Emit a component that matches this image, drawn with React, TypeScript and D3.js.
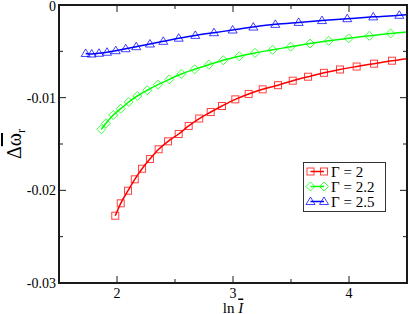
import React from "react";
import * as d3 from "d3";

const W = 409, H = 314;
const M = { left: 59, right: 2, top: 5, bottom: 31 };

const xTicks = [2, 3, 4];
const xMinor = [2.5, 3.5];
const yTicks = [0, -0.01, -0.02, -0.03];
const yTickLabels = ["0", "-0.01", "-0.02", "-0.03"];
const yMinor = [-0.005, -0.015, -0.025];

const redX = [1.985, 2.032, 2.095, 2.153, 2.216, 2.284, 2.359, 2.44, 2.532, 2.618, 2.709, 2.808, 2.905, 3.02, 3.135, 3.256, 3.388, 3.515, 3.647, 3.784, 3.922, 4.066, 4.216, 4.371];
const redY = [-0.02274, -0.0214, -0.02004, -0.01881, -0.01767, -0.01662, -0.01557, -0.01471, -0.01392, -0.01305, -0.01225, -0.01155, -0.0109, -0.01018, -0.0096, -0.0091, -0.00865, -0.00817, -0.00774, -0.00732, -0.00696, -0.00664, -0.00633, -0.00601];
const greenX = [1.865, 1.905, 1.968, 2.032, 2.101, 2.175, 2.261, 2.353, 2.451, 2.554, 2.67, 2.791, 2.916, 3.054, 3.19, 3.342, 3.497, 3.664, 3.825, 3.997, 4.175, 4.359];
const greenY = [-0.01341, -0.01277, -0.01187, -0.01119, -0.01047, -0.00982, -0.0092, -0.0086, -0.00802, -0.00745, -0.00694, -0.00644, -0.00596, -0.00553, -0.00517, -0.00484, -0.0045, -0.00416, -0.00387, -0.0036, -0.00333, -0.00307];
const blueX = [1.73, 1.782, 1.845, 1.914, 1.989, 2.075, 2.166, 2.284, 2.399, 2.532, 2.675, 2.836, 2.997, 3.175, 3.365, 3.566, 3.767, 3.985, 4.209, 4.434];
const blueY = [-0.00523, -0.00529, -0.00521, -0.0051, -0.00493, -0.00472, -0.0045, -0.00421, -0.00392, -0.00358, -0.00328, -0.00299, -0.0027, -0.00238, -0.00209, -0.00188, -0.00168, -0.00148, -0.00128, -0.00111];
const fitEndX = 4.5;
const fitEndY = [-0.00579, -0.00291, -0.00105];

const seriesNames = ["Γ = 2", "Γ = 2.2", "Γ = 2.5"];
const seriesColors = ["#ff0000", "#00ff00", "#0000ff"];
const seriesShapes = ["square", "diamond", "triangle"];

function Marker({ shape, x, y, color }: { shape: string; x: number; y: number; color: string }) {
  const common = { fill: "none", stroke: color, strokeWidth: 1, strokeOpacity: 0.75 };
  if (shape === "square") return <rect x={x - 3.5} y={y - 3.5} width={7} height={7} {...common} />;
  if (shape === "diamond")
    return <path d={`M${x},${y - 4.5}L${x + 4.5},${y}L${x},${y + 4.5}L${x - 4.5},${y}Z`} {...common} />;
  return <path d={`M${x},${y - 4.5}L${x + 4.5},${y + 3}L${x - 4.5},${y + 3}Z`} {...common} />;
}

export default function App() {
  const x = d3.scaleLinear().domain([1.5, 4.5]).range([M.left, W - M.right]);
  const y = d3.scaleLinear().domain([-0.03, 0]).range([H - M.bottom, M.top]);
  const series = [
    { xs: redX, ys: redY },
    { xs: greenX, ys: greenY },
    { xs: blueX, ys: blueY },
  ];
  const line = d3
    .line<[number, number]>()
    .x((d) => x(d[0]))
    .y((d) => y(d[1]))
    .curve(d3.curveMonotoneX);
  const x0 = M.left, x1 = W - M.right, y0 = M.top, y1 = H - M.bottom;
  const axisColor = "#1a1a1a";
  const font = "'Liberation Serif', 'Times New Roman', serif";

  return (
    <svg width={W} height={H} style={{ position: "absolute", left: 0, top: 0, background: "#fff" }} fontFamily={font}>
      {series.map((s, i) => {
        const pts: [number, number][] = s.xs.map((v, j) => [v, s.ys[j]]);
        pts.push([fitEndX, fitEndY[i]]);
        return (
          <g key={i}>
            <path d={line(pts) || ""} fill="none" stroke={seriesColors[i]} strokeWidth={1.5} />
            {s.xs.map((v, j) => (
              <Marker key={j} shape={seriesShapes[i]} x={x(v)} y={y(s.ys[j])} color={seriesColors[i]} />
            ))}
          </g>
        );
      })}
      <rect x={x0} y={y0} width={x1 - x0} height={y1 - y0} fill="none" stroke={axisColor} strokeWidth={2} />
      {xTicks.map((t) => (
        <g key={"xt" + t}>
          <line x1={x(t)} x2={x(t)} y1={y1} y2={y1 - 7} stroke={axisColor} strokeWidth={1} />
          <line x1={x(t)} x2={x(t)} y1={y0} y2={y0 + 7} stroke={axisColor} strokeWidth={1} />
          <text x={x(t)} y={298} textAnchor="middle" fontSize={14} fill="#000">{t}</text>
        </g>
      ))}
      {xMinor.map((t) => (
        <g key={"xm" + t}>
          <line x1={x(t)} x2={x(t)} y1={y1} y2={y1 - 4} stroke={axisColor} strokeWidth={1} />
          <line x1={x(t)} x2={x(t)} y1={y0} y2={y0 + 4} stroke={axisColor} strokeWidth={1} />
        </g>
      ))}
      {yTicks.map((t, i) => (
        <g key={"yt" + t}>
          <line x1={x0} x2={x0 + 7} y1={y(t)} y2={y(t)} stroke={axisColor} strokeWidth={1} />
          <line x1={x1} x2={x1 - 7} y1={y(t)} y2={y(t)} stroke={axisColor} strokeWidth={1} />
          <text x={56} y={Math.max(y(t) + 5, 11)} textAnchor="end" fontSize={14} fill="#000">{yTickLabels[i]}</text>
        </g>
      ))}
      {yMinor.map((t) => (
        <g key={"ym" + t}>
          <line x1={x0} x2={x0 + 4} y1={y(t)} y2={y(t)} stroke={axisColor} strokeWidth={1} />
          <line x1={x1} x2={x1 - 4} y1={y(t)} y2={y(t)} stroke={axisColor} strokeWidth={1} />
        </g>
      ))}
      <text x={233} y={312.5} textAnchor="middle" fontSize={15} fill="#000">
        ln <tspan fontStyle="italic" style={{ textDecoration: "overline" }}>I</tspan>
      </text>
      <text transform={`translate(21,${(y0 + y1) / 2}) rotate(-90)`} textAnchor="middle" fontSize={20} fill="#000">
        Δ<tspan style={{ textDecoration: "overline" }}>ω</tspan>
        <tspan fontSize={12} dy={4}>r</tspan>
      </text>
      <rect x={303.5} y={162.5} width={82} height={49} fill="#fff" stroke="#333" strokeWidth={1} />
      {seriesNames.map((n, i) => {
        const ly = 171.5 + i * 15;
        return (
          <g key={"lg" + i}>
            <line x1={310.5} x2={324} y1={ly} y2={ly} stroke={seriesColors[i]} strokeWidth={1.5} />
            <Marker shape={seriesShapes[i]} x={310.5} y={ly} color={seriesColors[i]} />
            <Marker shape={seriesShapes[i]} x={324} y={ly} color={seriesColors[i]} />
            <text x={331} y={ly + 5} fontSize={15} fill="#000">{n}</text>
          </g>
        );
      })}
    </svg>
  );
}
